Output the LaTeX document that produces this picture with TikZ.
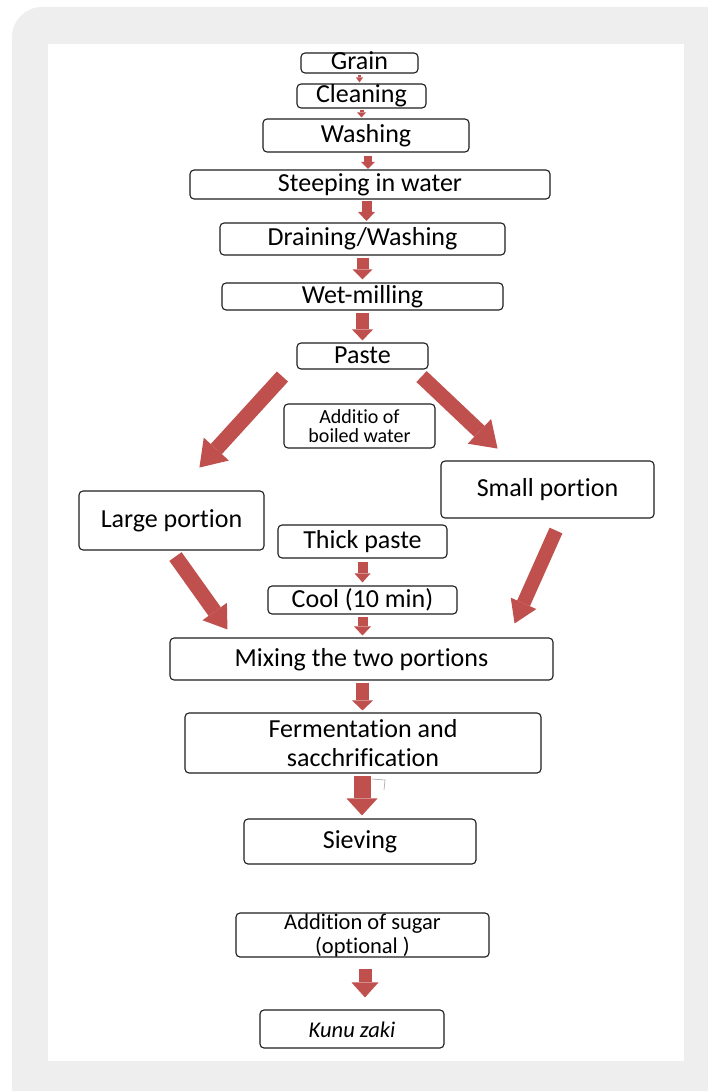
\documentclass[tikz,border=0pt]{standalone}
\usepackage{fontspec}
\setmainfont{Carlito}[Ligatures=NoCommon]
\usetikzlibrary{arrows.meta,calc}
\definecolor{arrowred}{RGB}{192,80,77}
\definecolor{bggray}{RGB}{238,238,238}
\definecolor{boxline}{RGB}{30,30,30}
\begin{document}
\begin{tikzpicture}[x=1pt,y=-1pt,
  box/.style={draw=boxline, line width=1.1pt, rounded corners=4pt, inner sep=0pt,
    font=\fontsize{26}{30}\selectfont, text height=14pt, text depth=0pt},
  mbox/.style={draw=boxline, line width=1.1pt, rounded corners=4pt, inner sep=0pt, align=center},
  blk/.style n args={3}{draw=arrowred, line width=#1,
    -{Triangle[width=#2,length=#3,line width=0pt]}},
]
\useasboundingbox (0,0) rectangle (708,1091);
\clip (0,0) rectangle (708,1091);
\fill[bggray, rounded corners=30pt] (12,7) rectangle (760,1140);
\fill[white] (48,44) rectangle (684,1061);

% nodes
\node[box, minimum width=117pt, minimum height=20pt] (grain) at (359.5,63) {Grain};
\node[box, minimum width=129pt, minimum height=24pt] (clean) at (361.5,96) {Cleaning};
\node[box, minimum width=206pt, minimum height=33pt] (wash) at (366,135.5) {Washing};
\node[box, minimum width=360pt, minimum height=29pt] (steep) at (370,184.5) {Steeping in water};
\node[box, minimum width=285pt, minimum height=32pt] (drain) at (362.5,239) {Draining/Washing};
\node[box, minimum width=281pt, minimum height=27pt] (wet) at (362.5,296.5) {Wet-milling};
\node[box, minimum width=131pt, minimum height=26pt] (paste) at (362.5,356) {Paste};
\node[mbox, minimum width=151pt, minimum height=44pt,
  font=\fontsize{20}{18.7}\selectfont] (boil) at (359.5,426) {Additio of\\boiled water};
\node[box, minimum width=185pt, minimum height=59pt] (large) at (171.5,520.5) {Large portion};
\node[box, minimum width=213pt, minimum height=57pt] (small) at (547.5,489.5) {Small portion};
\node[box, minimum width=169pt, minimum height=33pt] (thick) at (362.5,541.5) {Thick paste};
\node[box, minimum width=189pt, minimum height=28pt] (cool) at (362.5,600) {Cool (10 min)};
\node[box, minimum width=383pt, minimum height=42pt] (mix) at (361.5,659) {Mixing the two portions};
\node[mbox, minimum width=356pt, minimum height=60pt,
  font=\fontsize{26}{29}\selectfont] (ferm) at (363,743) {Fermentation and\\sacchrification};
\node[box, minimum width=232pt, minimum height=45pt] (sieve) at (360,841.5) {Sieving};
\node[mbox, minimum width=253pt, minimum height=44pt,
  font=\fontsize{22.5}{24}\selectfont] (sugar) at (362.5,935) {Addition of sugar\\(optional )};
\node[box, minimum width=184pt, minimum height=38pt,
  font=\fontsize{22.5}{26}\selectfont\itshape, text height=16pt] (kunu) at (352,1029) {Kunu zaki};

% free ends of the diagonal arrows
\coordinate (pl) at ($(paste.south west)+(-97,98)$);
\coordinate (pr) at ($(paste.south east)+(69,79)$);
\coordinate (ml) at ($(mix.north west)+(58,-8)$);
\coordinate (mr) at ($(mix.north east)+(-39,-14)$);

% vertical arrows
\draw[blk={3pt}{7pt}{5pt}, shorten <=1pt, shorten >=1pt] (grain.south) -- (grain.south |- clean.north);
\draw[blk={4pt}{9pt}{5pt}, shorten <=1pt, shorten >=1pt] (clean.south) -- (clean.south |- wash.north);
\draw[blk={8pt}{14pt}{7pt}, shorten <=3pt, shorten >=0.5pt] ($(wash.south)+(2,0)$) -- ($(wash.south |- steep.north)+(2,0)$);
\draw[blk={10pt}{17pt}{9pt}, shorten <=1pt, shorten >=1.5pt] ($(drain.north |- steep.south)+(4,0)$) -- ($(drain.north)+(4,0)$);
\draw[blk={12pt}{20pt}{10pt}, shorten <=2pt, shorten >=3pt] (drain.south) -- (drain.south |- wet.north);
\draw[blk={13pt}{21pt}{11pt}, shorten <=2pt, shorten >=2pt] (wet.south) -- (wet.south |- paste.north);
\draw[blk={10pt}{16pt}{9pt}, shorten <=3pt, shorten >=3pt] (thick.south) -- (thick.south |- cool.north);
\draw[blk={10pt}{17pt}{9pt}, shorten <=2pt, shorten >=2pt] (cool.south) -- (cool.south |- mix.north);
\draw[blk={13pt}{21pt}{10pt}, shorten <=2pt, shorten >=2pt] ($(mix.south)+(1,0)$) -- ($(mix.south |- ferm.north)+(1,0)$);
\draw[blk={17pt}{31pt}{17pt}, shorten <=2pt, shorten >=3pt] ($(ferm.south)+(-1,0)$) -- ($(ferm.south |- sieve.north)+(-1,0)$);
\draw[blk={13pt}{27pt}{15pt}, shorten <=11pt, shorten >=12pt] ($(sugar.south)+(2.5,0)$) -- ($(sugar.south |- kunu.north)+(2.5,0)$);

% diagonal arrows
\draw[blk={15pt}{34pt}{25pt}] ($(paste.south west)+(-14,7)$) -- (pl);
\draw[blk={15pt}{34pt}{25pt}] ($(paste.south east)+(-7,7)$) -- (pr);
\draw[blk={15pt}{30pt}{22pt}] ($(large.south)+(4,6)$) -- (ml);
\draw[blk={14pt}{28pt}{22pt}] ($(small.south)+(8.5,12)$) -- (mr);

% small stray mark
\draw[gray!70, line width=0.6pt] (372,779) -- (385,780) -- (384,790);
\end{tikzpicture}
\end{document}
